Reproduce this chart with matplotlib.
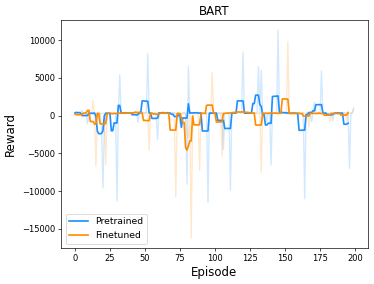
import numpy as np
import matplotlib
matplotlib.use("Agg")
import matplotlib.pyplot as plt

# raw per-episode rewards (faint lines)
pretrained_raw = [
    300, 450, 200, 400, 350, 700, 250, 300, 150, -1100,
    350, 250, 300, 200, 400, 300, 350, 250, 300, -1500,
    -9600, -1500, 300, 400, 250, 350, 300, 200, 400, 300,
    -11300, 350, 5400, 300, 250, 400, 350, 300, 450, 250,
    400, 300, 350, 500, 250, -900, 400, 300, 350, 450,
    300, 400, 8200, 350, 250, 400, 300, 350, 250, -3200,
    400, 300, 350, 500, 250, 300, 450, 350, 300, 250,
    400, 350, 300, -500, 250, -1000, 300, 350, 400, 250,
    -9100, 6500, 300, 350, 250, 400, 300, 450, 350, 300,
    400, 350, 300, 250, 400, -11500, 300, 350, 250, 400,
    300, 350, 250, 400, 300, 350, -4500, 300, 250, 400,
    350, -9900, 300, 400, 250, 350, 300, 400, 350, 250,
    8400, 300, 350, 400, 250, 300, 300, 400, 350, 300,
    400, 6500, 300, 6000, 350, 300, 300, -800, 400, 350,
    -6500, 300, 350, 400, 250, 11300, 450, 350, 500, 400,
    350, 450, 300, 400, 350, 250, 400, 300, 350, 200,
    400, 300, 250, 350, -11000, 300, 400, 350, 250, -800,
    400, 1800, 350, 300, 400, 250, 5900, 350, 300, 400,
    250, 350, 300, 400, -700, 300, 250, 350, 400, 300,
    350, 250, 400, 300, 350, 250, -7000, 300, 400, 1000,
]
finetuned_raw = [
    250, 200, 300, 150, 200, -300, 250, 200, 300, 150,
    700, 300, 250, 2000, 200, -6700, 300, 250, 350, 200,
    300, 250, -6500, 200, 300, 250, 350, 200, 300, 250,
    200, 350, 300, 250, 400, 300, 350, 250, 400, 300,
    350, 400, 300, 450, 350, 300, 400, 700, 350, 300,
    400, 350, 300, -4600, 350, 300, 250, 400, 300, 350,
    -300, 300, 350, 250, 400, 300, 350, 250, 300, 350,
    300, 250, -10800, 300, 350, 250, 300, 200, 350, 250,
    -2500, -3000, 300, -16200, -1500, 300, 350, 200, 300, -7300,
    300, 250, 350, 300, 200, 350, 300, 250, 5700, 300,
    350, 250, 300, 200, 350, -5400, 300, 250, 350, 300,
    250, 300, 350, 400, 300, 350, 450, 500, 400, 550,
    450, 500, 400, 550, 450, 400, 350, 300, 400, 350,
    300, 250, 350, -7500, 300, 250, 350, 300, 250, 350,
    300, 250, 350, 300, 400, 250, 300, 350, 250, 300,
    350, 250, 9800, 300, 250, 350, 200, 300, 250, 350,
    300, 250, 200, 350, 300, 250, 300, -1500, 250, 300,
    350, 250, 300, 200, 350, 300, 250, 300, 350, 200,
    300, 250, -800, 300, 200, 350, 250, 300, 200, 350,
    250, 300, 200, 350, -900, 300, 250, 350, 300, 800,
]
window = 5


def smooth(values, w):
    """Moving average (valid part only)."""
    return np.convolve(values, np.ones(w) / w, mode="valid")


dpi = 60.6
fig = plt.figure(figsize=(374 / dpi, 284 / dpi), dpi=dpi)
ax = fig.add_axes([0.163, 0.126, 0.82, 0.804])

episodes = np.arange(len(pretrained_raw))
ax.plot(episodes, pretrained_raw, color="dodgerblue", alpha=0.2, lw=1.6)
ax.plot(episodes, finetuned_raw, color="darkorange", alpha=0.2, lw=1.6)

pre_s = smooth(pretrained_raw, window)
fin_s = smooth(finetuned_raw, window)
ax.plot(np.arange(len(pre_s)), pre_s, color="dodgerblue", lw=2, label="Pretrained")
ax.plot(np.arange(len(fin_s)), fin_s, color="darkorange", lw=2, label="Finetuned")

ax.set_title("BART", fontsize=14)
ax.set_xlabel("Episode", fontsize=14)
ax.set_ylabel("Reward", fontsize=14, labelpad=6)
ax.legend(loc="lower left", fontsize=11)

fig.savefig("out.png", dpi=dpi)
